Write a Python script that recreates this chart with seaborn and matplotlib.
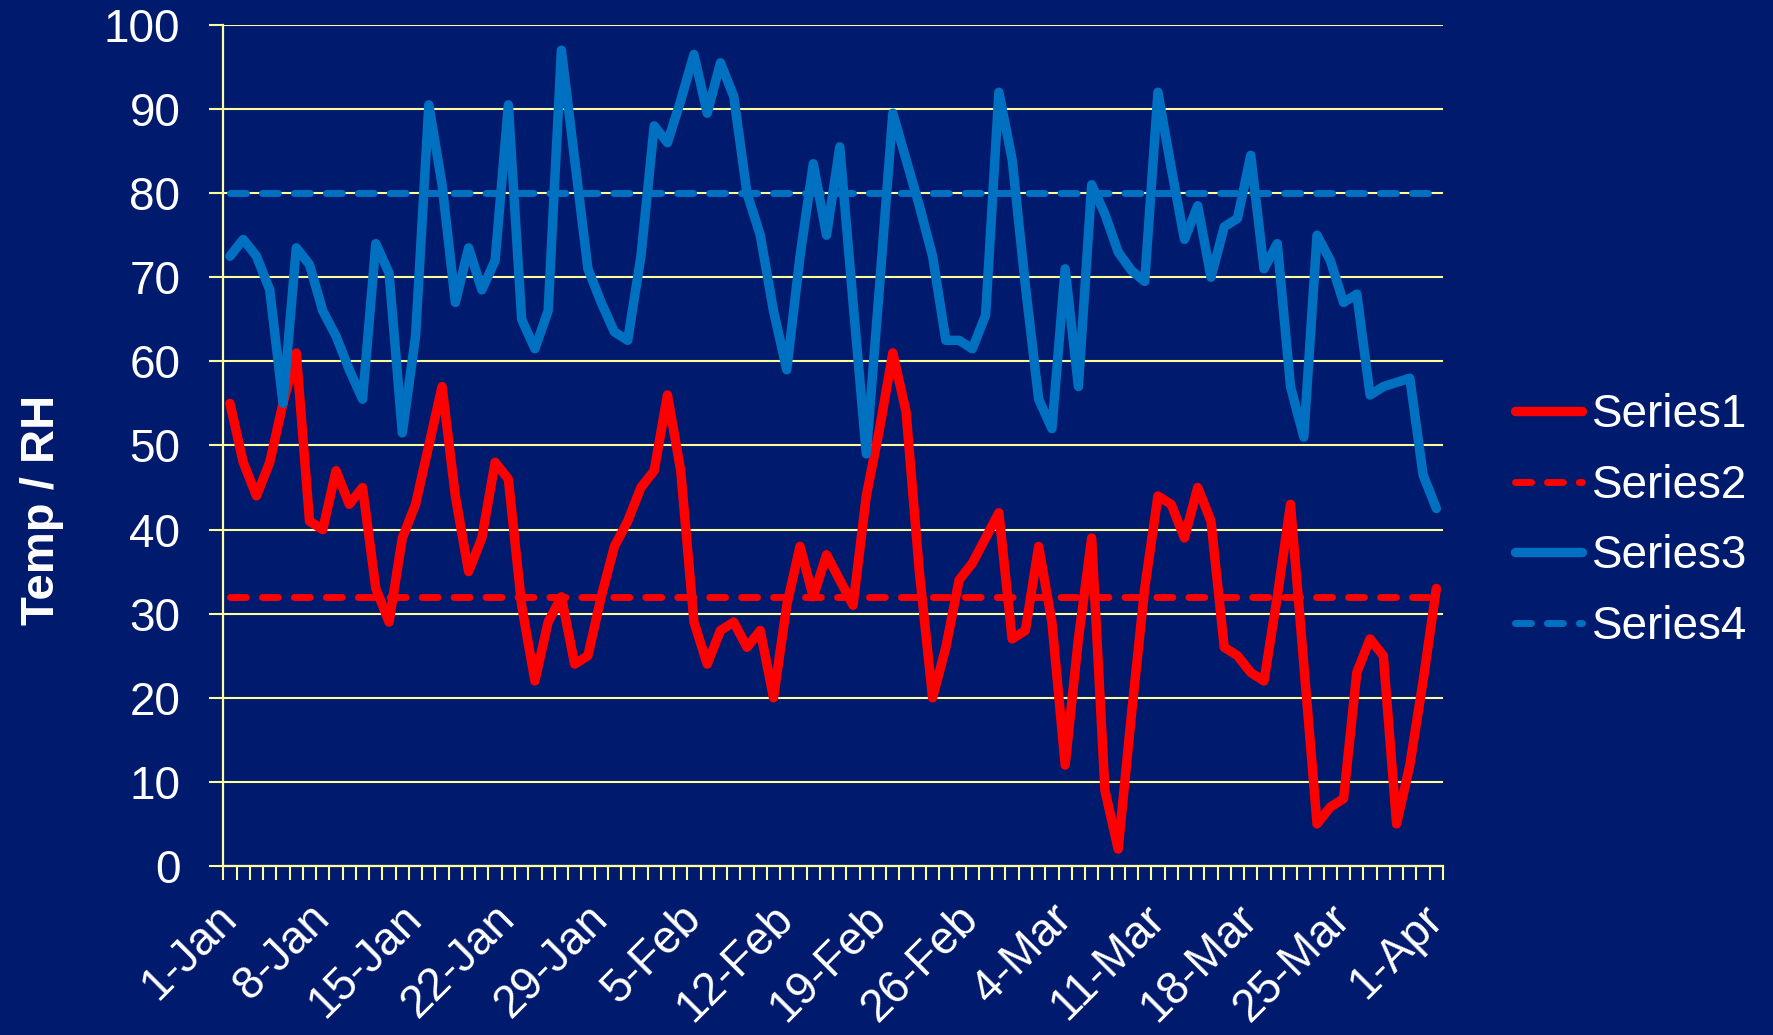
import pandas as pd
import seaborn as sns
import matplotlib.pyplot as plt
from matplotlib.ticker import FixedLocator

# daily dates, 1-Jan to 1-Apr (leap year -> 92 days)
dates = pd.date_range("2008-01-01", "2008-04-01", freq="D")

series1 = [55, 48, 44, 48, 55, 61, 41, 40, 47, 43, 45, 33, 29, 39, 43, 50,
           57, 44, 35, 39, 48, 46, 31, 22, 29, 32, 24, 25, 32, 38, 41, 45,
           47, 56, 47, 29, 24, 28, 29, 26, 28, 20, 31, 38, 32, 37, 34, 31,
           44, 52, 61, 54, 35, 20, 26, 34, 36, 39, 42, 27, 28, 38, 29, 12,
           27, 39, 9, 2, 18, 33, 44, 43, 39, 45, 41, 26, 25, 23, 22, 32,
           43, 24, 5, 7, 8, 23, 27, 25, 5, 12, 22, 33]
series3 = [72.5, 74.5, 72.5, 68.5, 55, 73.5, 71.5, 66, 63, 59, 55.5, 74, 70.5, 51.5, 63, 90.5,
           81, 67, 73.5, 68.5, 72, 90.5, 65, 61.5, 66, 97, 84, 71, 67, 63.5, 62.5, 72.5,
           88, 86, 91, 96.5, 89.5, 95.5, 91.5, 80, 75, 66, 59, 72.5, 83.5, 75, 85.5, 67,
           49, 69, 89.5, 84, 78.5, 72.5, 62.5, 62.5, 61.5, 65.5, 92, 84, 69, 55.5, 52, 71,
           57, 81, 77.5, 73, 70.8, 69.5, 92, 83, 74.5, 78.5, 70, 76, 77, 84.5, 71, 74,
           57, 51, 75, 72, 67, 68, 56, 57, 57.5, 58, 46.5, 42.5]
series2_level = 32
series4_level = 80
series2 = [series2_level] * len(dates)
series4 = [series4_level] * len(dates)

y_ticks = list(range(0, 101, 10))
label_every = 7

df = pd.DataFrame({
    "day": range(len(dates)),
    "Series1": series1,
    "Series2": series2,
    "Series3": series3,
    "Series4": series4,
})

navy = "#001A6E"
grid_yellow = "#FFFF99"
red = "#FF0000"
blue = "#0070C0"

sns.set_style("white")
plt.rcParams["font.family"] = ["Liberation Sans", "DejaVu Sans"]

fig = plt.figure(figsize=(17.74, 10.35), dpi=100, facecolor=navy)
ax = fig.add_axes([0.1259, 0.1633, 0.6875, 0.8126])
ax.set_facecolor(navy)

solid = dict(lw=6.8, solid_capstyle="round", solid_joinstyle="round")
dashed = dict(lw=5, linestyle=(0, (2.3, 2.3)), dash_capstyle="round")

sns.lineplot(data=df, x="day", y="Series1", color=red, label="Series1", ax=ax, **solid)
sns.lineplot(data=df, x="day", y="Series2", color=red, label="Series2", ax=ax, **dashed)
sns.lineplot(data=df, x="day", y="Series3", color=blue, label="Series3", ax=ax, **solid)
sns.lineplot(data=df, x="day", y="Series4", color=blue, label="Series4", ax=ax, **dashed)

ax.set_xlim(-0.5, len(dates) - 0.5)
ax.set_ylim(0, 100)

# y axis
ax.set_yticks(y_ticks)
ax.yaxis.grid(True, color=grid_yellow, lw=1.5)
ax.xaxis.grid(False)
ax.tick_params(axis="y", colors=grid_yellow, labelcolor="white", labelsize=33,
               length=10, width=1.5, direction="out", pad=21, left=True)

# x axis: labels every 7 days, tick marks between categories
lab_pos = list(range(0, len(dates), label_every))
ax.set_xticks(lab_pos)
ax.set_xticklabels([f"{d.day}-{d:%b}" for d in dates[lab_pos]],
                   rotation=45, ha="right", va="center", rotation_mode="anchor")
ax.xaxis.set_minor_locator(FixedLocator([i - 0.5 for i in range(len(dates) + 1)]))
ax.tick_params(axis="x", which="major", length=0, labelcolor="white", labelsize=33, pad=33)
ax.tick_params(axis="x", which="minor", colors=grid_yellow, length=10, width=1.5,
               direction="out", bottom=True)

for side in ["top", "right"]:
    ax.spines[side].set_visible(False)
for side in ["left", "bottom"]:
    ax.spines[side].set_color(grid_yellow)
    ax.spines[side].set_linewidth(1.6)

ax.set_xlabel("")
ax.set_ylabel("Temp / RH", color="white", fontsize=34, fontweight="bold")
ax.yaxis.set_label_coords(-0.1306, 0.423)

leg = ax.legend(loc="center left", bbox_to_anchor=(1515 / 1774, 0.4966),
                bbox_transform=fig.transFigure, frameon=False, fontsize=33,
                handlelength=1.47, handletextpad=0.2, labelspacing=0.58,
                borderpad=0, borderaxespad=0)
for t in leg.get_texts():
    t.set_color("white")

fig.savefig("out.png", dpi=100, facecolor=navy)
